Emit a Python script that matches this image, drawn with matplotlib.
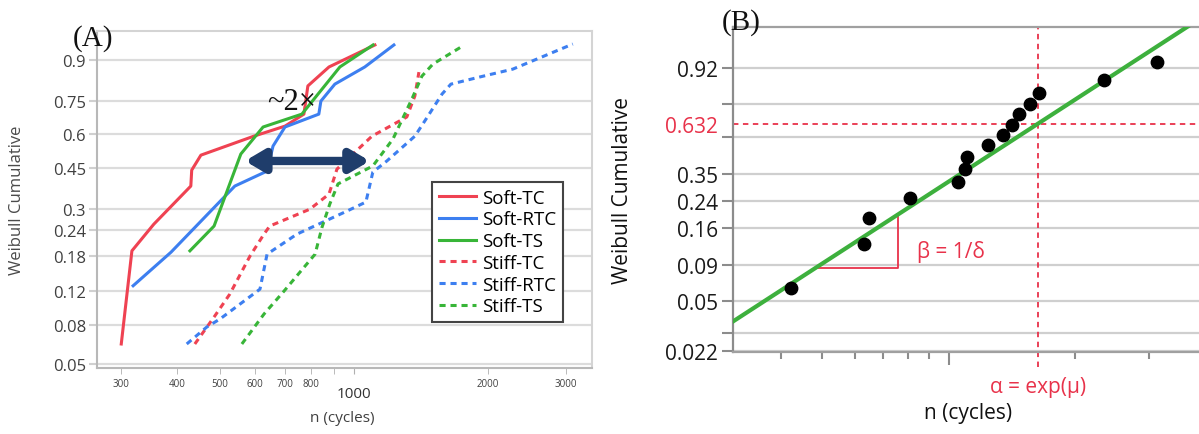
import numpy as np
import matplotlib
matplotlib.use('Agg')
import matplotlib.pyplot as plt
from matplotlib.ticker import FixedLocator, FixedFormatter, NullFormatter
import matplotlib.transforms as mtrans

plt.rcParams['font.family'] = ['Open Sans', 'DejaVu Sans']

# ---- panel A: cycles to failure vs cumulative probability ----
soft_tc_n = [300, 317, 355, 430, 432, 453, 596, 700, 772, 788, 879, 1115]
soft_tc_F = [0.064, 0.191, 0.256, 0.379, 0.441, 0.504, 0.589, 0.635, 0.690, 0.811, 0.879, 0.938]

soft_rtc_n = [319, 388, 540, 638, 658, 700, 834, 843, 906, 1058, 1230]
soft_rtc_F = [0.128, 0.188, 0.379, 0.437, 0.544, 0.631, 0.690, 0.748, 0.818, 0.879, 0.938]

soft_ts_n = [428, 485, 557, 625, 764, 930, 1104]
soft_ts_F = [0.191, 0.251, 0.509, 0.631, 0.690, 0.879, 0.938]

stiff_tc_n = [439, 485, 526, 584, 628, 647, 796, 879, 916, 1098, 1315, 1371, 1400]
stiff_tc_F = [0.064, 0.0885, 0.116, 0.180, 0.230, 0.251, 0.300, 0.350, 0.445, 0.589, 0.677, 0.770, 0.862]

stiff_rtc_n = [421, 467, 500, 615, 638, 745, 964, 1064, 1103, 1186, 1371, 1452, 1578, 1652, 1920, 2276, 3105]
stiff_rtc_F = [0.064, 0.0785, 0.0864, 0.123, 0.184, 0.230, 0.294, 0.323, 0.433, 0.479, 0.589, 0.667,
               0.778, 0.818, 0.845, 0.872, 0.940]

stiff_ts_n = [560, 628, 696, 818, 848, 883, 921, 1103, 1224, 1350, 1422, 1505, 1758]
stiff_ts_F = [0.064, 0.0917, 0.120, 0.184, 0.248, 0.317, 0.387, 0.458, 0.576, 0.757, 0.848, 0.888, 0.936]

a_yticks = [0.05, 0.08, 0.12, 0.18, 0.24, 0.3, 0.45, 0.6, 0.75, 0.9]
a_ylabels = ['0.05', '0.08', '0.12', '0.18', '0.24', '0.3', '0.45', '0.6', '0.75', '0.9']
a_xminor = [300, 400, 500, 600, 700, 800, 900, 2000, 3000]
a_xminor_labels = ['300', '400', '500', '600', '700', '800', '', '2000', '3000']

# ---- panel B: example fit ----
pts_n = [422, 629, 646, 808, 1056, 1097, 1109, 1244, 1350, 1418, 1472, 1564, 1643, 2343, 3126]
pts_F = [0.0625, 0.125, 0.1875, 0.25, 0.3125, 0.375, 0.4375, 0.5, 0.5625, 0.625, 0.6875,
         0.75, 0.8125, 0.875, 0.9375]
fit_alpha = 1633
fit_beta = 1.98
tri_n = [484, 757]
b_yticks = [0.022, 0.05, 0.09, 0.16, 0.24, 0.35, 0.632, 0.92]
b_ylabels = ['0.022', '0.05', '0.09', '0.16', '0.24', '0.35', '0.632', '0.92']
b_yminor = [0.03, 0.55, 0.75]
b_xminor = [400, 500, 600, 700, 800, 900, 2000, 3000]


def wfwd(F):
    F = np.clip(np.asarray(F, dtype=float), 1e-9, 1 - 1e-9)
    return np.log(-np.log(1 - F))


def winv(w):
    return 1 - np.exp(-np.exp(w))


RED = '#ef4252'
BLUE = '#3d7ff0'
GREEN = '#38b538'

fig = plt.figure(figsize=(11.99, 4.35), dpi=100)

# ================= panel A =================
ax = fig.add_axes([0.0809, 0.1517, 0.4128, 0.7747])
ax.set_xscale('log')
ax.set_yscale('function', functions=(wfwd, winv))
ax.set_xlim(264.6, 3428)
ax.set_ylim(0.0478, 0.9635)

lw = 2.2
ax.plot(soft_tc_n, soft_tc_F, color=RED, lw=lw, label='Soft-TC')
ax.plot(soft_rtc_n, soft_rtc_F, color=BLUE, lw=lw, label='Soft-RTC')
ax.plot(soft_ts_n, soft_ts_F, color=GREEN, lw=lw, label='Soft-TS')
ax.plot(stiff_tc_n, stiff_tc_F, color=RED, lw=lw, ls=(0, (2.0, 1.6)), label='Stiff-TC')
ax.plot(stiff_rtc_n, stiff_rtc_F, color=BLUE, lw=lw, ls=(0, (2.0, 1.6)), label='Stiff-RTC')
ax.plot(stiff_ts_n, stiff_ts_F, color=GREEN, lw=lw, ls=(0, (2.0, 1.6)), label='Stiff-TS')

ax.yaxis.set_major_locator(FixedLocator(a_yticks))
ax.yaxis.set_major_formatter(FixedFormatter(a_ylabels))
ax.yaxis.set_minor_locator(FixedLocator([]))
ax.grid(axis='y', color='#dcdcdc', lw=1.6)
ax.set_axisbelow(True)

ax.xaxis.set_major_locator(FixedLocator([1000]))
ax.xaxis.set_major_formatter(FixedFormatter(['1000']))
ax.xaxis.set_minor_locator(FixedLocator(a_xminor))
ax.xaxis.set_minor_formatter(FixedFormatter(a_xminor_labels))
ax.tick_params(axis='x', which='major', labelsize=11, length=4, color='#b0b0b0', pad=9,
               labelcolor='#333333')
ax.tick_params(axis='x', which='minor', labelsize=7, length=4, color='#b0b0b0', pad=3,
               labelcolor='#404040')
ax.tick_params(axis='y', labelsize=12, length=6, color='#d0d0d0', width=1.5, pad=2,
               labelcolor='#404040')
for s in ax.spines.values():
    s.set_color('#d4d4d4')
    s.set_linewidth(1.5)
ax.spines['left'].set_color('#b8b8b8')
ax.spines['bottom'].set_color('#b8b8b8')

ax.set_xlabel('n (cycles)', fontsize=11, color='#404040')
ax.xaxis.set_label_coords(0.495, -0.125)
ax.set_ylabel('Weibull Cumulative', fontsize=12, color='#4a4a4a')
ax.yaxis.set_label_coords(-0.145, 0.5)

leg = ax.legend(loc='lower left', bbox_to_anchor=(0.677, 0.1365), fontsize=13.5,
                handlelength=2.0, handletextpad=0.3, labelspacing=0.2, borderpad=0.35,
                borderaxespad=0, fancybox=False, framealpha=1, edgecolor='#444444')
leg.get_frame().set_linewidth(1.5)

ax.annotate('', xy=(1086, 0.479), xytext=(569, 0.479),
            arrowprops=dict(arrowstyle='<|-|>,head_length=1.1,head_width=0.65',
                            color='#1f3d6b', lw=6, shrinkA=0, shrinkB=0))
ax.text(0.394, 0.79, '~2×', transform=ax.transAxes, fontsize=22, family='Liberation Serif',
        ha='center', va='center', color='#111111')
fig.text(93 / 1199, 1 - 39 / 435, '(A)', fontsize=21, family='Liberation Serif',
         ha='center', va='center', color='#111111')

# ================= panel B =================
bx = fig.add_axes([0.6113, 0.1885, 0.3887, 0.7471])
bx.set_xscale('log')
bx.set_yscale('function', functions=(wfwd, winv))
bx.set_xlim(307.6, 3935)
bx.set_ylim(0.0218, 0.99334)

bx.yaxis.set_major_locator(FixedLocator(b_yticks))
bx.yaxis.set_major_formatter(FixedFormatter(b_ylabels))
bx.yaxis.set_minor_locator(FixedLocator(b_yminor))
bx.grid(axis='y', which='both', color='#cfcfcf', lw=1.6)
bx.set_axisbelow(True)
bx.tick_params(axis='y', which='both', labelsize=15, length=8, color='#8c8c8c', width=1.5,
               pad=3, labelcolor='#1a1a1a')
for i, t in enumerate(bx.yaxis.get_major_ticks()):
    if b_yticks[i] == 0.632:
        t.tick1line.set_visible(False)
        t.gridline.set_visible(False)
        t.label1.set_color('#e8324a')

bx.xaxis.set_major_locator(FixedLocator([1000]))
bx.xaxis.set_major_formatter(NullFormatter())
bx.xaxis.set_minor_locator(FixedLocator(b_xminor))
bx.xaxis.set_minor_formatter(NullFormatter())
bx.tick_params(axis='x', which='major', length=9, color='#8c8c8c', width=1.5)
bx.tick_params(axis='x', which='minor', length=5, color='#8c8c8c', width=1.5)
bx.spines['right'].set_visible(False)
bx.spines['left'].set_color('#8c8c8c')
bx.spines['bottom'].set_color('#a0a0a0')
bx.spines['top'].set_color('#a0a0a0')
for s in ('left', 'bottom', 'top'):
    bx.spines[s].set_linewidth(1.6)

line_n = np.geomspace(*bx.get_xlim(), 50)
line_F = winv(fit_beta * (np.log(line_n) - np.log(fit_alpha)))
bx.plot(line_n, line_F, color='#3db03d', lw=3, zorder=3)
bx.scatter(pts_n, pts_F, s=80, color='black', zorder=4)

bx.axhline(0.632, color='#e8324a', lw=1.3, ls=(0, (3, 2.5)), zorder=2)
bx.axvline(fit_alpha, ymin=-0.045, ymax=1, color='#e8324a', lw=1.3, ls=(0, (3, 2.5)),
           clip_on=False, zorder=2)

tri_F = winv(fit_beta * (np.log(tri_n) - np.log(fit_alpha)))
bx.plot([tri_n[0], tri_n[1], tri_n[1]], [tri_F[0], tri_F[0], tri_F[1]], color='#e8324a', lw=1.3,
        zorder=2)
bx.text(840, 0.112, 'β = 1/δ', color='#e8324a', fontsize=15, ha='left', va='center')

btr = mtrans.blended_transform_factory(bx.transData, bx.transAxes)
bx.text(fit_alpha, -0.105, 'α = exp(μ)', transform=btr, color='#e8324a', fontsize=15,
        ha='center', va='center')
bx.set_xlabel('n (cycles)', fontsize=15, color='#111111')
bx.xaxis.set_label_coords(0.504, -0.155)
bx.set_ylabel('Weibull Cumulative', fontsize=15, color='#111111')
bx.yaxis.set_label_coords(-0.215, 0.5)
fig.text(741 / 1199, 1 - 23 / 435, '(B)', fontsize=21, family='Liberation Serif',
         ha='center', va='center', color='#111111')

fig.savefig('out.png', dpi=100)
